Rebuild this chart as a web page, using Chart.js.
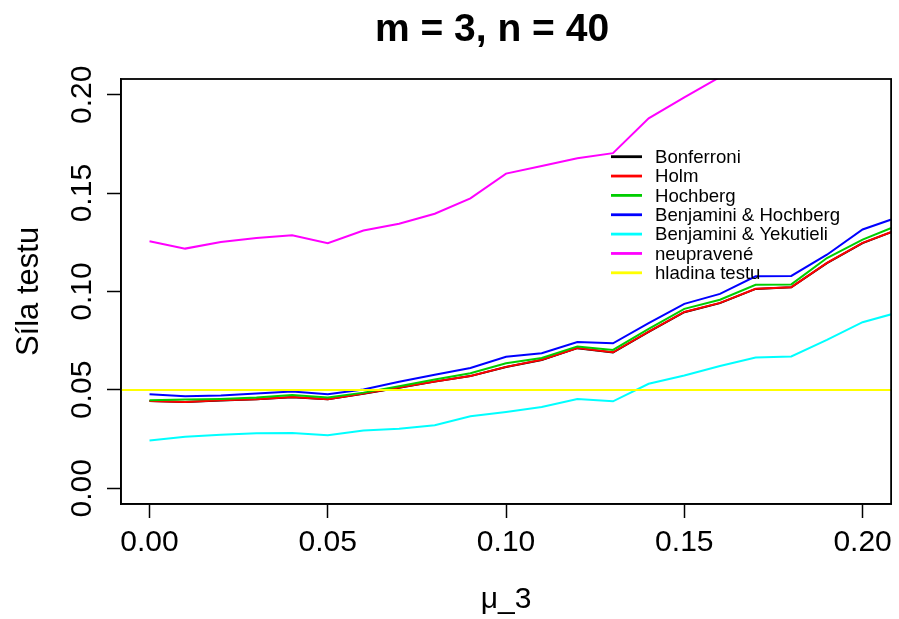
<!DOCTYPE html>
<html>
<head>
<meta charset="utf-8">
<script src="https://cdn.jsdelivr.net/npm/chart.js@4"></script>
<style>
  body { margin: 0; background: #fff; }
  canvas { display: block; }
</style>
</head>
<body>
<canvas id="chart" width="899" height="619"></canvas>
<script>
// x values (mu_3)
const MU = [0, 0.01, 0.02, 0.03, 0.04, 0.05, 0.06, 0.07, 0.08, 0.09, 0.10,
            0.11, 0.12, 0.13, 0.14, 0.15, 0.16, 0.17, 0.18, 0.19, 0.20, 0.21];

// power of the test
const BONFERRONI = [0.0443, 0.0438, 0.0446, 0.0452, 0.0463, 0.0452, 0.0480, 0.0511, 0.0542, 0.0570, 0.0616,
                    0.0652, 0.0712, 0.0690, 0.0795, 0.0895, 0.0941, 0.1013, 0.1021, 0.1144, 0.1246, 0.1315];
const HOLM = [0.0444, 0.0439, 0.0447, 0.0453, 0.0464, 0.0453, 0.0481, 0.0512, 0.0543, 0.0571, 0.0617,
              0.0653, 0.0713, 0.0691, 0.0796, 0.0896, 0.0942, 0.1014, 0.1022, 0.1145, 0.1247, 0.1316];
const HOCHBERG = [0.0447, 0.0451, 0.0454, 0.0461, 0.0474, 0.0461, 0.0486, 0.0519, 0.0553, 0.0585, 0.0635,
                  0.0662, 0.0721, 0.0703, 0.0810, 0.0912, 0.0958, 0.1034, 0.1036, 0.1170, 0.1264, 0.1337];
const BH = [0.0478, 0.0468, 0.0471, 0.0482, 0.0492, 0.0478, 0.0502, 0.0541, 0.0577, 0.0611, 0.0668,
            0.0686, 0.0743, 0.0737, 0.0839, 0.0937, 0.0988, 0.1077, 0.1079, 0.1187, 0.1315, 0.1378];
const BY = [0.0243, 0.0262, 0.0272, 0.0279, 0.0281, 0.0269, 0.0293, 0.0303, 0.0320, 0.0366, 0.0388,
            0.0413, 0.0454, 0.0442, 0.0531, 0.0573, 0.0621, 0.0665, 0.0670, 0.0754, 0.0844, 0.0894];
const NEUPRAVENE = [0.1255, 0.1218, 0.1252, 0.1272, 0.1286, 0.1245, 0.1310, 0.1344, 0.1395, 0.1473, 0.1599,
                    0.1638, 0.1677, 0.1703, 0.1880, 0.1987, 0.2090, null, null, null, null, null];
const ALPHA = 0.05;

const SERIES_NAMES = ['Bonferroni', 'Holm', 'Hochberg', 'Benjamini & Hochberg',
                      'Benjamini & Yekutieli', 'neupravené', 'hladina testu'];
const SERIES_COLORS = ['#000000', '#FF0000', '#00CD00', '#0000FF', '#00FFFF', '#FF00FF', '#FFFF00'];

// axis limits and ticks
const X_MIN = -0.008, X_MAX = 0.208;
const Y_MIN = -0.008, Y_MAX = 0.208;
const X_TICKS = [0, 0.05, 0.10, 0.15, 0.20];
const Y_TICKS = [0, 0.05, 0.10, 0.15, 0.20];

const TITLE = 'm = 3, n = 40';
const X_TITLE = 'μ_3';
const Y_TITLE = 'Síla testu';

const FONT = "'Liberation Sans', Arial, Helvetica, sans-serif";

function pts(values) {
  return MU.map((x, i) => ({ x: x, y: values[i] }));
}

const allSeries = [BONFERRONI, HOLM, HOCHBERG, BH, BY, NEUPRAVENE];
const datasets = allSeries.map((vals, i) => ({
  label: SERIES_NAMES[i],
  data: pts(vals),
  borderColor: SERIES_COLORS[i],
  borderWidth: 2,
  pointRadius: 0,
  tension: 0,
  spanGaps: false,
  clip: 0,
  order: 7 - i
}));
// horizontal significance level line across the whole plot
datasets.push({
  label: SERIES_NAMES[6],
  data: [{ x: X_MIN, y: ALPHA }, { x: X_MAX, y: ALPHA }],
  borderColor: SERIES_COLORS[6],
  borderWidth: 2,
  pointRadius: 0,
  clip: 0,
  order: 0
});

// R-like decorations: box, title, rotated y labels, axis titles, legend
const rStyle = {
  id: 'rStyle',
  afterDraw(chart) {
    const c = chart.ctx;
    const a = chart.chartArea;
    const ys = chart.scales.y;
    c.save();
    c.strokeStyle = '#000';
    c.lineWidth = 1.8;
    c.strokeRect(a.left, a.top, a.right - a.left, a.bottom - a.top);

    c.fillStyle = '#000';
    // title
    c.font = 'bold 39px ' + FONT;
    c.textAlign = 'center';
    c.textBaseline = 'alphabetic';
    c.fillText(TITLE, 492, 41);

    // y tick labels, rotated like R
    c.font = '30px ' + FONT;
    Y_TICKS.forEach(v => {
      const y = ys.getPixelForValue(v);
      c.save();
      c.translate(91, y);
      c.rotate(-Math.PI / 2);
      c.textAlign = 'center';
      c.fillText(v.toFixed(2), 0, 0);
      c.restore();
    });

    // axis titles
    c.textAlign = 'center';
    c.fillText(X_TITLE, (a.left + a.right) / 2, 608);
    c.save();
    c.translate(38, (a.top + a.bottom) / 2);
    c.rotate(-Math.PI / 2);
    c.font = '31px ' + FONT;
    c.fillText(Y_TITLE, 0, 0);
    c.restore();

    // legend (no box)
    c.font = '18.6px ' + FONT;
    c.textAlign = 'left';
    c.textBaseline = 'middle';
    SERIES_NAMES.forEach((name, i) => {
      const y = 156.7 + i * 19.35;
      c.strokeStyle = SERIES_COLORS[i];
      c.lineWidth = 2.8;
      c.beginPath();
      c.moveTo(611, y);
      c.lineTo(642, y);
      c.stroke();
      c.fillStyle = '#000';
      c.fillText(name, 655, y + 1);
    });
    c.restore();
  }
};

const ctx = document.getElementById('chart').getContext('2d');
new Chart(ctx, {
  type: 'line',
  data: { datasets: datasets },
  plugins: [rStyle],
  options: {
    responsive: false,
    animation: false,
    events: [],
    layout: { padding: { left: 0, right: 6, top: 79, bottom: 0 } },
    plugins: {
      legend: { display: false },
      tooltip: { enabled: false },
      title: { display: false }
    },
    scales: {
      x: {
        type: 'linear',
        min: X_MIN,
        max: X_MAX,
        afterBuildTicks: s => { s.ticks = X_TICKS.map(v => ({ value: v })); },
        afterFit: s => { s.height = 115; },
        grid: { drawOnChartArea: false, drawTicks: true, tickLength: 14, tickColor: '#000', tickWidth: 1.5 },
        border: { display: true, color: '#000', width: 1.5 },
        ticks: {
          color: '#000',
          font: { family: FONT, size: 30 },
          padding: 7,
          maxRotation: 0,
          autoSkip: false,
          callback: v => v.toFixed(2)
        }
      },
      y: {
        type: 'linear',
        min: Y_MIN,
        max: Y_MAX,
        afterBuildTicks: s => { s.ticks = Y_TICKS.map(v => ({ value: v })); },
        afterFit: s => { s.width = 121; },
        grid: { drawOnChartArea: false, drawTicks: true, tickLength: 14, tickColor: '#000', tickWidth: 1.5 },
        border: { display: true, color: '#000', width: 1.5 },
        ticks: { color: 'rgba(0,0,0,0)', font: { family: FONT, size: 30 } }
      }
    }
  }
});
</script>
</body>
</html>
